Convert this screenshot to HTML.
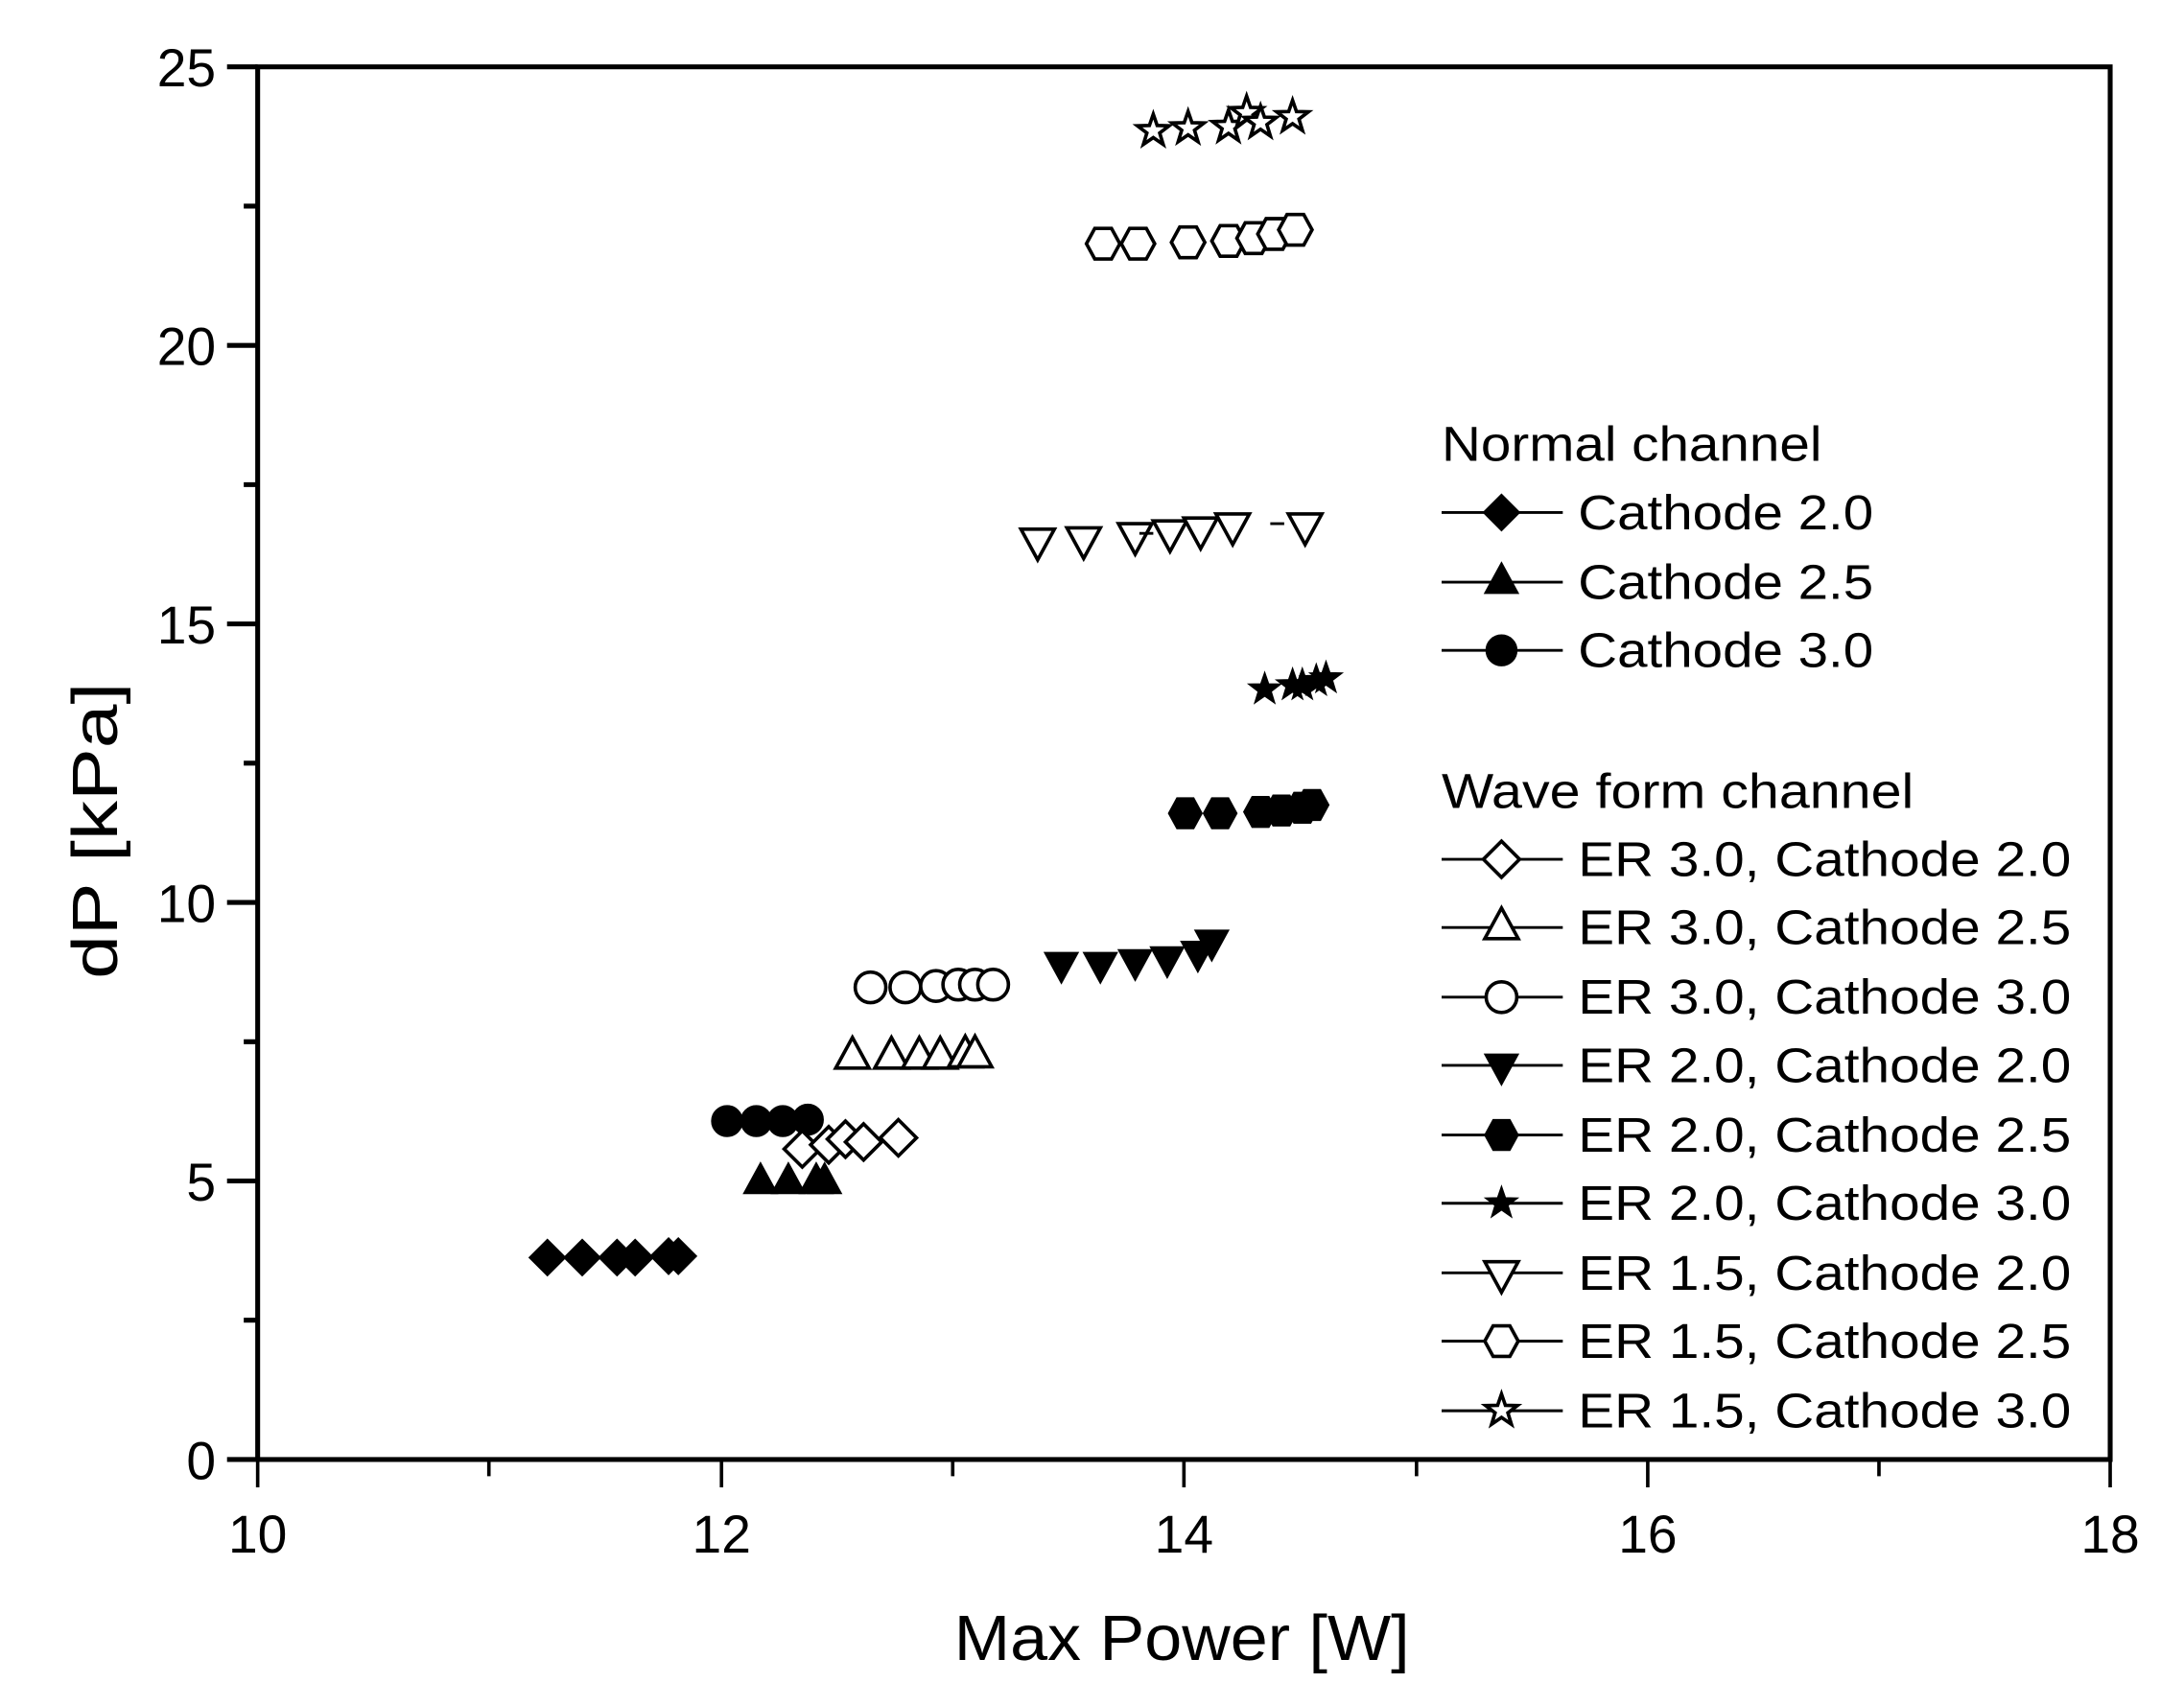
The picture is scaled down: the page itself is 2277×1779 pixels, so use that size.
<!DOCTYPE html>
<html><head><style>html,body{margin:0;padding:0;background:#fff}svg{display:block}</style></head>
<body>
<svg width="2277" height="1779" viewBox="0 0 1568 1225" preserveAspectRatio="none" xmlns="http://www.w3.org/2000/svg" font-family="'Liberation Sans', Arial, sans-serif">
<defs>
<path id="dm" d="M0,-13 L13,0 L0,13 L-13,0 Z"/>
<path id="tu" d="M0,-12 L12,10 L-12,10 Z"/>
<path id="td" d="M0,12 L12,-10 L-12,-10 Z"/>
<circle id="ci" r="11"/>
<path id="hx" d="M-6,-11 L6,-11 L12,0 L6,11 L-6,11 L-12,0 Z"/>
<path id="st" d="M0,-12 L2.8,-3.9 L11.4,-3.7 L4.6,1.5 L7.1,9.7 L0,4.8 L-7.1,9.7 L-4.6,1.5 L-11.4,-3.7 L-2.8,-3.9 Z"/>
</defs>
<rect width="1568" height="1225" fill="#fff"/>
<g stroke="#000" stroke-width="3.5" fill="none">
<rect x="185" y="48" width="1330" height="1000"/>
<path d="M163,48H185M163,248H185M163,448H185M163,648H185M163,848H185M163,1048H185M175,148H185M175,348H185M175,548H185M175,748H185M175,948H185"/>
<path d="M185,1048V1068M518,1048V1068M850,1048V1068M1183,1048V1068M1515,1048V1068M351,1048V1060M684,1048V1060M1017,1048V1060M1349,1048V1060" stroke-width="2.5"/>
</g>
<g font-size="38" text-anchor="end" fill="#000">
<text x="155" y="62">25</text><text x="155" y="262">20</text><text x="155" y="462">15</text><text x="155" y="662">10</text><text x="155" y="862">5</text><text x="155" y="1062">0</text>
</g>
<g font-size="38" text-anchor="middle" fill="#000">
<text x="185" y="1115">10</text><text x="518" y="1115">12</text><text x="850" y="1115">14</text><text x="1183" y="1115">16</text><text x="1515" y="1115">18</text>
</g>
<text x="685" y="1192" font-size="46" textLength="327" lengthAdjust="spacingAndGlyphs">Max Power [W]</text>
<text transform="translate(84,703) rotate(-90)" font-size="46" textLength="213" lengthAdjust="spacingAndGlyphs">dP [kPa]</text>

<g fill="#000" stroke="#000" stroke-width="1">
<g><use href="#dm" x="393" y="903"/><use href="#dm" x="418" y="903"/><use href="#dm" x="443" y="903"/><use href="#dm" x="456" y="903"/><use href="#dm" x="480" y="902"/><use href="#dm" x="487" y="902"/></g>
<g><use href="#tu" x="546" y="847"/><use href="#tu" x="566" y="847"/><use href="#tu" x="586" y="847"/><use href="#tu" x="592" y="847"/></g>
<g><use href="#ci" x="522" y="805"/><use href="#ci" x="543" y="805"/><use href="#ci" x="562" y="805"/><use href="#ci" x="580" y="804"/></g>
<g><use href="#td" x="762" y="694"/><use href="#td" x="790" y="694"/><use href="#td" x="815" y="692"/><use href="#td" x="838" y="690"/><use href="#td" x="860" y="686"/><use href="#td" x="870" y="678"/></g>
<g><use href="#hx" x="851" y="584"/><use href="#hx" x="876" y="584"/><use href="#hx" x="905" y="583"/><use href="#hx" x="920" y="582"/><use href="#hx" x="935" y="580"/><use href="#hx" x="942" y="578"/></g>
<g><use href="#st" x="908" y="495"/><use href="#st" x="928" y="492"/><use href="#st" x="935" y="492"/><use href="#st" x="945" y="489"/><use href="#st" x="952" y="487"/></g>
</g>
<g fill="#fff" stroke="#000" stroke-width="2.5">
<g><use href="#dm" x="576" y="825"/><use href="#dm" x="595" y="822"/><use href="#dm" x="607" y="818"/><use href="#dm" x="620" y="820"/><use href="#dm" x="645" y="817"/></g>
<g><use href="#tu" x="612" y="757"/><use href="#tu" x="640" y="757"/><use href="#tu" x="660" y="757"/><use href="#tu" x="675" y="757"/><use href="#tu" x="693" y="756"/><use href="#tu" x="700" y="756"/></g>
<g><use href="#ci" x="625" y="709"/><use href="#ci" x="650" y="709"/><use href="#ci" x="672" y="708"/><use href="#ci" x="688" y="707"/><use href="#ci" x="700" y="707"/><use href="#ci" x="713" y="707"/></g>
<g><use href="#td" x="745" y="390"/><use href="#td" x="778" y="389"/><use href="#td" x="815" y="386"/><use href="#td" x="840" y="384"/><use href="#td" x="862" y="382"/><use href="#td" x="885" y="379"/><use href="#td" x="937" y="379"/></g>
<path d="M912,376H922M818,383H828" stroke="#000" stroke-width="2"/>
<g><use href="#hx" x="792" y="175"/><use href="#hx" x="817" y="175"/><use href="#hx" x="853" y="174"/><use href="#hx" x="882" y="173"/><use href="#hx" x="900" y="171"/><use href="#hx" x="915" y="168"/><use href="#hx" x="930" y="165"/></g>
<g><use href="#st" x="828" y="94"/><use href="#st" x="853" y="92"/><use href="#st" x="882" y="91"/><use href="#st" x="895" y="81"/><use href="#st" x="905" y="88"/><use href="#st" x="928" y="84"/></g>
</g>

<g font-size="35" fill="#000">
<text x="1035" y="331" textLength="273" lengthAdjust="spacingAndGlyphs">Normal channel</text>
<text x="1035" y="580" textLength="339" lengthAdjust="spacingAndGlyphs">Wave form channel</text>
<g transform="translate(0,12)">
<text x="1133" y="368" textLength="212" lengthAdjust="spacingAndGlyphs">Cathode 2.0</text><text x="1133" y="418" textLength="212" lengthAdjust="spacingAndGlyphs">Cathode 2.5</text><text x="1133" y="467" textLength="212" lengthAdjust="spacingAndGlyphs">Cathode 3.0</text>
<text x="1133" y="617" textLength="354" lengthAdjust="spacingAndGlyphs">ER 3.0, Cathode 2.0</text><text x="1133" y="666" textLength="354" lengthAdjust="spacingAndGlyphs">ER 3.0, Cathode 2.5</text><text x="1133" y="716" textLength="354" lengthAdjust="spacingAndGlyphs">ER 3.0, Cathode 3.0</text>
<text x="1133" y="765" textLength="354" lengthAdjust="spacingAndGlyphs">ER 2.0, Cathode 2.0</text><text x="1133" y="815" textLength="354" lengthAdjust="spacingAndGlyphs">ER 2.0, Cathode 2.5</text><text x="1133" y="864" textLength="354" lengthAdjust="spacingAndGlyphs">ER 2.0, Cathode 3.0</text>
<text x="1133" y="914" textLength="354" lengthAdjust="spacingAndGlyphs">ER 1.5, Cathode 2.0</text><text x="1133" y="963" textLength="354" lengthAdjust="spacingAndGlyphs">ER 1.5, Cathode 2.5</text><text x="1133" y="1013" textLength="354" lengthAdjust="spacingAndGlyphs">ER 1.5, Cathode 3.0</text>
</g>
</g>
<g stroke="#000" stroke-width="2">
<path d="M1035,368H1122M1035,418H1122M1035,467H1122M1035,617H1122M1035,666H1122M1035,716H1122M1035,765H1122M1035,815H1122M1035,864H1122M1035,914H1122M1035,963H1122M1035,1013H1122"/>
</g>
<g fill="#000" stroke="#000">
<use href="#dm" x="1078" y="368"/><use href="#tu" x="1078" y="416"/><use href="#ci" x="1078" y="467"/>
<use href="#td" x="1078" y="767"/><use href="#hx" x="1078" y="815"/><use href="#st" x="1078" y="864"/>
</g>
<g fill="#fff" stroke="#000" stroke-width="2.5">
<use href="#dm" x="1078" y="617"/><use href="#tu" x="1078" y="664"/><use href="#ci" x="1078" y="716"/>
<use href="#td" x="1078" y="916"/><use href="#hx" x="1078" y="963"/><use href="#st" x="1078" y="1013"/>
</g>
</svg>
</body></html>
